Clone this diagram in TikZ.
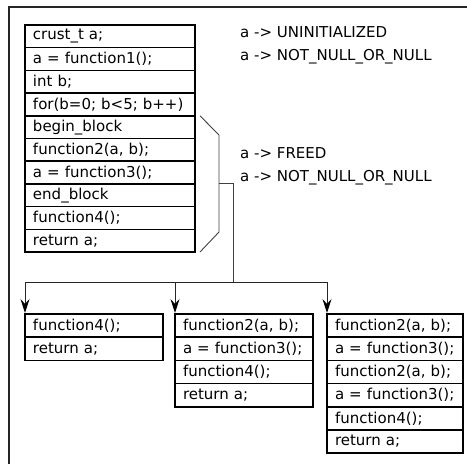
\documentclass[tikz,border=0pt]{standalone}
\usepackage{fontspec}
\newfontfamily\codefont{DejaVu Sans}
\usetikzlibrary{arrows.meta, positioning, calc}

\begin{document}
\begin{tikzpicture}[
    x=1pt, y=-1pt,
    node distance=0pt,
    stmt/.style={draw, rectangle, line width=1.5pt, outer sep=0pt, minimum height=22.7pt, inner xsep=8pt, inner ysep=0pt, text width=154pt, align=left, font=\codefont\fontsize{15}{18}\selectfont},
    path stmt/.style={stmt, minimum height=23.2pt, text width=122pt},
    state/.style={anchor=base west, inner sep=0pt, font=\codefont\fontsize{15}{18}\selectfont},
    link/.style={draw=black!75, line width=0.9pt},
    branch/.style={draw=black!85, line width=0.9pt, -{Stealth[length=14pt, width=9pt, inset=5pt, black]}, shorten >=1pt}
]
\useasboundingbox (0,0) rectangle (467,464);
\clip (0,0) rectangle (467,464);

% Frame
\draw[line width=1.8pt, black!85] (9,7) rectangle (480,480);

% Main function
\node[stmt, anchor=north west] (decl) at (25,25) {crust\_t a;};
\node[stmt, below=of decl] (init) {a = function1();};
\node[stmt, below=of init] (intb) {int b;};
\node[stmt, below=of intb] (loop) {for(b=0; b<5; b++)};
\node[stmt, below=of loop] (begin) {begin\_block};
\node[stmt, below=of begin] (call2) {function2(a, b);};
\node[stmt, below=of call2] (call3) {a = function3();};
\node[stmt, below=of call3] (endblk) {end\_block};
\node[stmt, below=of endblk] (call4) {function4();};
\node[stmt, below=of call4] (ret) {return a;};

% States
\node[state] (st1) at (240,37) {a -> UNINITIALIZED};
\node[state] (st2) at (240,60) {a -> NOT\_NULL\_OR\_NULL};
\node[state] (st3) at (240,158) {a -> FREED};
\node[state] (st4) at (240,181) {a -> NOT\_NULL\_OR\_NULL};

% Loop brace
\coordinate (fork) at (219,183);
\coordinate (split) at (233,282);
\draw[link] ($(begin.north east)+(5,0)$) -- (219,135) -- (219,232) -- ($(ret.south east)+(5,0)$);

% Path 1: zero iterations
\node[path stmt, anchor=north west] (p1a) at (25,314) {function4();};
\node[path stmt, below=of p1a] (p1b) {return a;};

% Path 2: one iteration
\node[path stmt, anchor=north west] (p2a) at (175,314) {function2(a, b);};
\node[path stmt, below=of p2a] (p2b) {a = function3();};
\node[path stmt, below=of p2b] (p2c) {function4();};
\node[path stmt, below=of p2c] (p2d) {return a;};

% Path 3: two iterations
\node[path stmt, anchor=north west, text width=120pt] (p3a) at (327,314) {function2(a, b);};
\node[path stmt, below=of p3a, text width=120pt] (p3b) {a = function3();};
\node[path stmt, below=of p3b, text width=120pt] (p3c) {function2(a, b);};
\node[path stmt, below=of p3c, text width=120pt] (p3d) {a = function3();};
\node[path stmt, below=of p3d, text width=120pt] (p3e) {function4();};
\node[path stmt, below=of p3e, text width=120pt] (p3f) {return a;};

% Branches
\draw[link] (fork) -| (split);
\draw[branch] (split) -| (p1a.north west);
\draw[branch] (split) -| (p2a.north west);
\draw[branch] (split) -| (p3a.north west);

\end{tikzpicture}
\end{document}
